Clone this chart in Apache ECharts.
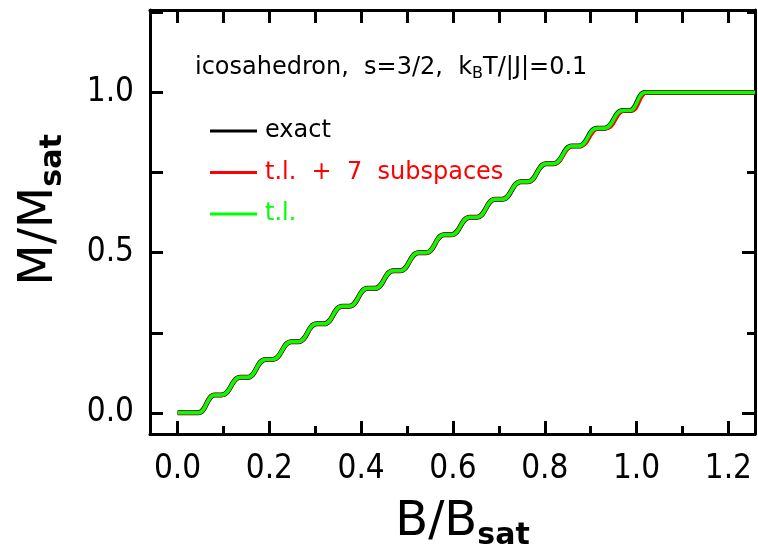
<!DOCTYPE html>
<html>
<head>
<meta charset="utf-8">
<script src="https://cdn.jsdelivr.net/npm/echarts@6/dist/echarts.min.js"></script>
<style>
    html, body { margin: 0; padding: 0; background: #fff; }
    #chart { width: 758px; height: 556px; }
</style>
</head>
<body>
<div id="chart"></div>
<script>
// plateau start / end of every magnetisation step
var bExact = [0.000, 0.045, 0.081, 0.096, 0.137, 0.152, 0.192, 0.207, 0.248, 0.263,
              0.303, 0.319, 0.359, 0.374, 0.414, 0.430, 0.470, 0.485, 0.525, 0.541,
              0.581, 0.596, 0.637, 0.652, 0.692, 0.707, 0.748, 0.763, 0.803, 0.819,
              0.859, 0.874, 0.914, 0.930, 0.970, 0.985, 1.018, 1.258];
var bTl    = [0.000, 0.045, 0.081, 0.096, 0.137, 0.152, 0.192, 0.207, 0.248, 0.263,
              0.303, 0.319, 0.359, 0.374, 0.414, 0.430, 0.470, 0.485, 0.525, 0.541,
              0.581, 0.596, 0.637, 0.652, 0.692, 0.707, 0.748, 0.763, 0.803, 0.819,
              0.859, 0.874, 0.914, 0.930, 0.970, 0.985, 1.018, 1.258];
var bSub   = [0.000, 0.045, 0.081, 0.096, 0.137, 0.152, 0.192, 0.207, 0.248, 0.263,
              0.303, 0.319, 0.359, 0.374, 0.414, 0.430, 0.470, 0.485, 0.525, 0.541,
              0.581, 0.596, 0.637, 0.652, 0.692, 0.707, 0.748, 0.763, 0.803, 0.819,
              0.862, 0.877, 0.918, 0.934, 0.974, 0.989, 1.022, 1.258];
var mSteps = [0, 0, 0.056, 0.056, 0.111, 0.111, 0.167, 0.167, 0.222, 0.222,
              0.278, 0.278, 0.333, 0.333, 0.389, 0.389, 0.444, 0.444, 0.5, 0.5,
              0.556, 0.556, 0.611, 0.611, 0.667, 0.667, 0.722, 0.722, 0.778, 0.778,
              0.833, 0.833, 0.889, 0.889, 0.944, 0.944, 1, 1];

var seriesNames = ['exact', 't.l.  +  7  subspaces', 't.l.'];
var seriesColors = ['#000000', '#ff0000', '#00ff00'];

var xRange = [-0.06, 1.258];
var yRange = [-0.066, 1.258];

function pairs(xs, ys) {
    return xs.map(function (x, i) { return [x, ys[i]]; });
}

var tickFont = 'DejaVu Sans Condensed';

function onStep(v, step) {
    var r = Math.round(v / step);
    return Math.abs(v / step - r) < 1e-6;
}

var chart = echarts.init(document.getElementById('chart'));

var baseAxis = {
    type: 'value',
    splitLine: {show: false},
    axisLine: {show: false, onZero: false},
    axisLabel: {show: false},
    axisTick: {inside: true, length: 13, lineStyle: {color: '#000', width: 3}}
};

function axis(extra) {
    return echarts.util.merge(echarts.util.clone(baseAxis), extra, true);
}

var frameLine = {show: true, onZero: false, lineStyle: {color: '#000', width: 3}};

var option = {
    backgroundColor: '#fff',
    animation: false,
    grid: {left: 150, top: 10, width: 613, height: 431},
    legend: {
        orient: 'vertical',
        left: 205,
        top: 111,
        itemWidth: 47,
        itemHeight: 3,
        itemGap: 11.5,
        icon: 'rect',
        selectedMode: false,
        textStyle: {fontFamily: 'DejaVu Sans', fontSize: 24, lineHeight: 24, padding: [6, 0, 0, 3]},
        data: [
            {name: seriesNames[0], textStyle: {color: seriesColors[0]}},
            {name: seriesNames[1], textStyle: {color: seriesColors[1]}},
            {name: seriesNames[2], textStyle: {color: seriesColors[2]}}
        ]
    },
    graphic: [{
        type: 'text',
        left: 195,
        top: 54,
        style: {
            text: '{n|icosahedron,  s=3/2,  k}{s|B}{n|T/|J|=0.1}',
            rich: {
                n: {fontFamily: 'DejaVu Sans', fontSize: 24, lineHeight: 30, fill: '#000'},
                s: {fontFamily: 'DejaVu Sans', fontSize: 16, lineHeight: 16, padding: [12, 0, 0, 0], fill: '#000'}
            }
        }
    }],
    xAxis: [
        axis({
            position: 'bottom', min: xRange[0], max: xRange[1], minInterval: 0.1, maxInterval: 0.1,
            axisLine: frameLine,
            axisTick: {length: 8},
            axisLabel: {
                show: true, margin: 19, color: '#000', fontFamily: tickFont, fontSize: 33,
                formatter: function (v) { return onStep(v, 0.2) ? v.toFixed(1) : ''; }
            },
            name: '{a|B/B}{b|sat}',
            nameLocation: 'middle',
            nameGap: 61,
            nameTextStyle: {
                padding: [0, 0, 0, 20],
                rich: {
                    a: {fontFamily: 'DejaVu Sans', fontSize: 48, lineHeight: 56, color: '#000'},
                    b: {fontFamily: 'DejaVu Sans', fontSize: 30, fontWeight: 'bold', lineHeight: 30, padding: [26, 0, 0, 0], color: '#000'}
                }
            }
        }),
        axis({position: 'bottom', min: xRange[0], max: xRange[1], minInterval: 0.2, maxInterval: 0.2}),
        axis({position: 'top', min: xRange[0], max: xRange[1], minInterval: 0.1, maxInterval: 0.1,
              axisLine: frameLine})
    ],
    yAxis: [
        axis({
            position: 'left', min: yRange[0], max: yRange[1], minInterval: 0.25, maxInterval: 0.25,
            axisLine: frameLine,
            axisLabel: {
                show: true, margin: 16, color: '#000', fontFamily: tickFont, fontSize: 33,
                formatter: function (v) { return onStep(v, 0.5) ? v.toFixed(1) : ''; }
            },
            name: '{a|M/M}{b|sat}',
            nameLocation: 'middle',
            nameGap: 82,
            nameTextStyle: {
                padding: [0, 0, 0, 24],
                rich: {
                    a: {fontFamily: 'DejaVu Sans', fontSize: 48, lineHeight: 56, color: '#000'},
                    b: {fontFamily: 'DejaVu Sans', fontSize: 30, fontWeight: 'bold', lineHeight: 30, padding: [26, 0, 0, 0], color: '#000'}
                }
            }
        }),
        axis({position: 'right', min: yRange[0], max: yRange[1], minInterval: 0.25, maxInterval: 0.25,
              axisLine: frameLine, axisTick: {length: 8}}),
        axis({position: 'right', min: yRange[0], max: yRange[1], minInterval: 0.5, maxInterval: 0.5})
    ],
    series: [
        {
            name: seriesNames[0], type: 'line', data: pairs(bExact, mSteps),
            smooth: 0.5, smoothMonotone: 'x', showSymbol: false, symbol: 'none',
            color: seriesColors[0], lineStyle: {width: 5, color: seriesColors[0]}
        },
        {
            name: seriesNames[1], type: 'line', data: pairs(bSub, mSteps),
            smooth: 0.5, smoothMonotone: 'x', showSymbol: false, symbol: 'none',
            color: seriesColors[1], lineStyle: {width: 4, color: seriesColors[1]}
        },
        {
            name: seriesNames[2], type: 'line', data: pairs(bTl, mSteps),
            smooth: 0.5, smoothMonotone: 'x', showSymbol: false, symbol: 'none',
            color: seriesColors[2], lineStyle: {width: 3.5, color: seriesColors[2]}
        }
    ]
};

chart.setOption(option);
</script>
</body>
</html>
